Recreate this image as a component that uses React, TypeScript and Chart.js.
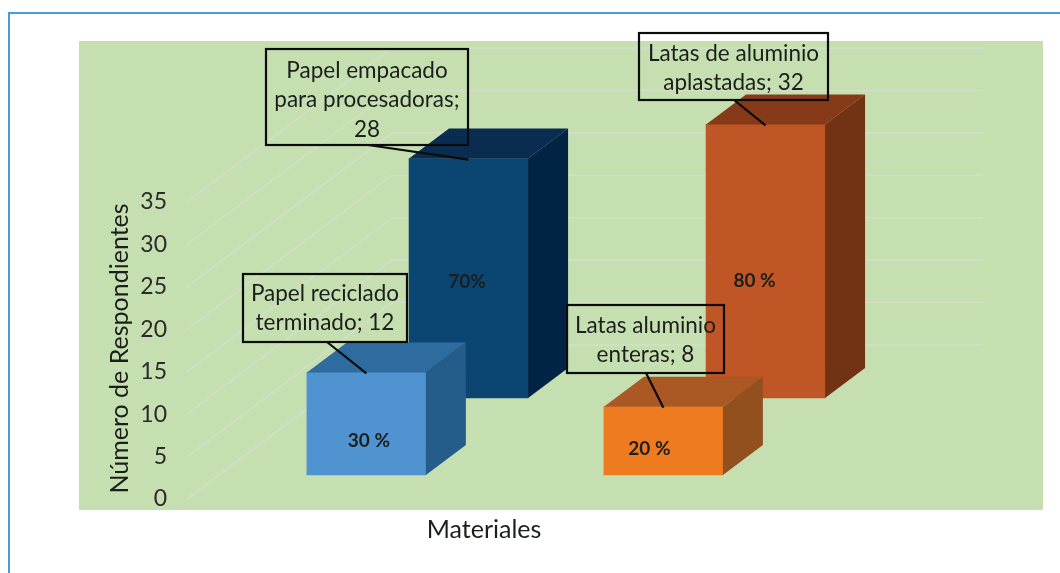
import React, { useEffect, useRef } from "react";
import { Chart, registerables } from "chart.js";

Chart.register(...registerables);

// ---- data ----
const yTitle = "Número de Respondientes";
const xTitle = "Materiales";
const frontNames = ["Papel reciclado terminado", "Latas aluminio enteras"];
const frontValues = [12, 8];
const frontPercents = ["30 %", "20 %"];
const backNames = ["Papel empacado para procesadoras", "Latas de aluminio aplastadas"];
const backValues = [28, 32];
const backPercents = ["70%", "80 %"];
const frontCalloutLines = [
  ["Papel reciclado", "terminado; 12"],
  ["Latas aluminio", "enteras; 8"],
];
const backCalloutLines = [
  ["Papel empacado", "para procesadoras;", "28"],
  ["Latas de aluminio", "aplastadas; 32"],
];

// ---- colours ----
const frontFace = ["#4f93d1", "#ef7b21"];
const frontTop = ["#2e6c9f", "#ab5824"];
const frontSide = ["#265c89", "#93501f"];
const backFace = ["#0b4572", "#c05525"];
const backTop = ["#0a2c50", "#863a17"];
const backSide = ["#012444", "#713313"];
const GREEN = "#c5dfb1";
const GRID = "#d2dfc6";
const FRAME = "#4a9bdc";
const INK = "#1b1f1b";
const FONT = "Lato";

// ---- layout ----
const W = 1060;
const H = 573;
const AREA = { left: 187, right: 781, top: 200, bottom: 497 };
const GREEN_BOX = { left: 79, top: 41, right: 1043, bottom: 510 };
const DEPTH = { x: 40, y: 30 };
const GRID_DEPTH = { x: 205, y: 154 };
const GRID_END = 983;
const UNITS_SHOWN = 34.74; // height of the plot in bar units
const FRONT_FLOOR = 2.57; // how far the front row floor sits above 0, in bar units
const BACK_FLOOR = 11.58;
const FRONT_X0 = -0.604;
const BACK_X0 = -0.948;
const percentPos = {
  0: [{ dx: 2.5, y: 441 }, { dx: -14, y: 449 }],
  1: [{ dx: -1.5, y: 282 }, { dx: -11, y: 281 }],
} as Record<number, { dx: number; y: number }[]>;
const calloutBox = {
  0: [
    { l: 243, t: 274, r: 407, b: 342, ax: 327, dy: 0 },
    { l: 567, t: 305, r: 724, b: 373, ax: 646, dy: 1 },
  ],
  1: [
    { l: 266, t: 49, r: 468, b: 145, ax: 368, dy: 3 },
    { l: 639, t: 33, r: 828, b: 100, ax: 734, dy: 1.5 },
  ],
} as Record<number, { l: number; t: number; r: number; b: number; ax: number; dy: number }[]>;

const faces = [
  { top: frontTop, side: frontSide, percents: frontPercents, lines: frontCalloutLines },
  { top: backTop, side: backSide, percents: backPercents, lines: backCalloutLines },
];

const cubePlugin = {
  id: "cube",
  beforeDraw(chart: any) {
    const c = chart.ctx;
    c.save();
    c.fillStyle = "#ffffff";
    c.fillRect(0, 0, W, H);
    c.fillStyle = FRAME;
    c.fillRect(8, 12, W - 8, 2);
    c.fillRect(8, 12, 2, H - 12);
    c.fillStyle = GREEN;
    c.fillRect(GREEN_BOX.left, GREEN_BOX.top, GREEN_BOX.right - GREEN_BOX.left, GREEN_BOX.bottom - GREEN_BOX.top);
    const y = chart.scales.y;
    c.strokeStyle = GRID;
    c.lineWidth = 1.6;
    y.ticks.forEach((t: any) => {
      const p = y.getPixelForValue(t.value);
      c.beginPath();
      c.moveTo(AREA.left, p + 2);
      c.lineTo(AREA.left + GRID_DEPTH.x, p + 2 - GRID_DEPTH.y);
      c.lineTo(GRID_END, p + 2 - GRID_DEPTH.y);
      c.stroke();
    });
    c.restore();
  },
  afterDatasetDraw(chart: any, args: any) {
    const c = chart.ctx;
    const f = faces[args.index];
    chart.getDatasetMeta(args.index).data.forEach((bar: any, i: number) => {
      const l = bar.x - bar.width / 2;
      const r = bar.x + bar.width / 2;
      c.save();
      c.fillStyle = f.top[i];
      c.beginPath();
      c.moveTo(l, bar.y);
      c.lineTo(l + DEPTH.x, bar.y - DEPTH.y);
      c.lineTo(r + DEPTH.x, bar.y - DEPTH.y);
      c.lineTo(r, bar.y);
      c.closePath();
      c.fill();
      c.fillStyle = f.side[i];
      c.beginPath();
      c.moveTo(r, bar.y);
      c.lineTo(r + DEPTH.x, bar.y - DEPTH.y);
      c.lineTo(r + DEPTH.x, bar.base - DEPTH.y);
      c.lineTo(r, bar.base);
      c.closePath();
      c.fill();
      c.restore();
    });
  },
  afterDatasetsDraw(chart: any) {
    const c = chart.ctx;
    c.save();
    c.textAlign = "center";
    c.textBaseline = "middle";
    [1, 0].forEach((ds) => {
      const f = faces[ds];
      chart.getDatasetMeta(ds).data.forEach((bar: any, i: number) => {
        const pos = percentPos[ds][i];
        c.fillStyle = INK;
        c.font = `bold 19px ${FONT}`;
        c.fillText(f.percents[i], bar.x + pos.dx, pos.y);
      });
    });
    [1, 0].forEach((ds) => {
      const f = faces[ds];
      chart.getDatasetMeta(ds).data.forEach((bar: any, i: number) => {
        const b = calloutBox[ds][i];
        c.strokeStyle = "#0c0c0c";
        c.lineWidth = 2.2;
        c.strokeRect(b.l, b.t, b.r - b.l, b.b - b.t);
        c.beginPath();
        c.moveTo(b.ax, b.b);
        c.lineTo(bar.x, bar.y + 1);
        c.stroke();
        c.fillStyle = INK;
        c.font = `22.5px ${FONT}`;
        const lines = f.lines[i];
        const step = 29.5;
        const mid = (b.t + b.b) / 2 + b.dy;
        lines.forEach((ln: string, k: number) => {
          c.fillText(ln, (b.l + b.r) / 2, mid + (k - (lines.length - 1) / 2) * step);
        });
      });
    });
    c.restore();
  },
};

export default function App() {
  const ref = useRef<HTMLCanvasElement>(null);
  useEffect(() => {
    const chart = new Chart(ref.current as HTMLCanvasElement, {
      type: "bar",
      data: {
        datasets: [
          {
            label: "Frente",
            data: frontValues.map((v, i) => ({ x: i, y: v, name: frontNames[i] })),
            xAxisID: "x",
            yAxisID: "yFront",
            backgroundColor: frontFace,
            barThickness: 119,
            grouped: false,
            order: 1,
            clip: false,
          },
          {
            label: "Fondo",
            data: backValues.map((v, i) => ({ x: i, y: v, name: backNames[i] })),
            xAxisID: "xBack",
            yAxisID: "yBack",
            backgroundColor: backFace,
            barThickness: 119,
            grouped: false,
            order: 2,
            clip: false,
          },
        ],
      } as any,
      options: {
        responsive: false,
        animation: false,
        devicePixelRatio: 1,
        layout: {
          padding: { left: 105, right: W - AREA.right, top: AREA.top, bottom: 26 },
        },
        plugins: { legend: { display: false }, tooltip: { enabled: false } },
        scales: {
          x: {
            type: "linear",
            position: "bottom",
            offset: false,
            min: FRONT_X0,
            max: FRONT_X0 + 2,
            grid: { display: false },
            border: { display: false },
            ticks: { display: false },
            title: {
              display: true,
              text: xTitle,
              color: INK,
              font: { family: FONT, size: 25 },
              padding: { top: 0, bottom: 1.6 },
            },
            afterFit(s: any) {
              s.height = 50;
            },
          },
          xBack: {
            type: "linear",
            display: false,
            offset: false,
            min: BACK_X0,
            max: BACK_X0 + 2,
          },
          y: {
            type: "linear",
            position: "left",
            min: 0,
            max: 35,
            grid: { display: false },
            border: { display: false },
            ticks: {
              stepSize: 5,
              color: "#2a2a2a",
              padding: 12,
              labelOffset: 2,
              font: { family: FONT, size: 23 },
            },
            title: {
              display: true,
              text: yTitle,
              color: INK,
              font: { family: FONT, size: 25 },
              padding: { top: 0, bottom: 0 },
            },
            afterFit(s: any) {
              s.width = AREA.left - 105;
            },
          },
          yFront: {
            type: "linear",
            display: false,
            min: -FRONT_FLOOR,
            max: UNITS_SHOWN - FRONT_FLOOR,
          },
          yBack: {
            type: "linear",
            display: false,
            min: -BACK_FLOOR,
            max: UNITS_SHOWN - BACK_FLOOR,
          },
        },
      } as any,
      plugins: [cubePlugin],
    });
    return () => chart.destroy();
  }, []);
  return (
    <canvas
      ref={ref}
      width={W}
      height={H}
      style={{ position: "fixed", left: 0, top: 0, width: W, height: H, display: "block" }}
    />
  );
}
